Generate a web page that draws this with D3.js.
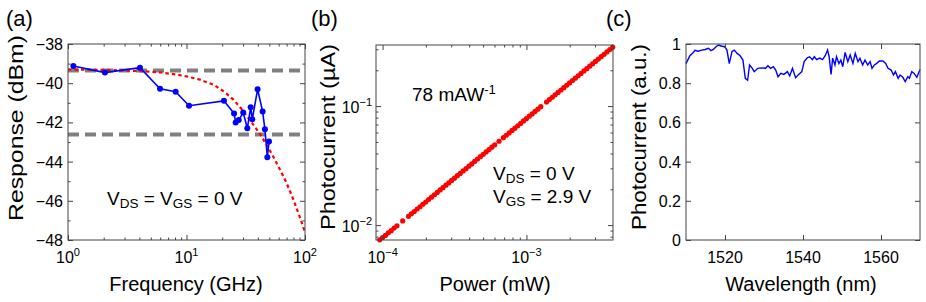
<!DOCTYPE html>
<html>
<head>
<meta charset="utf-8">
<title>Photodetector response</title>
<script src="https://cdn.jsdelivr.net/npm/d3@7"></script>
<style>
  body { margin: 0; background: #fff; }
  text { font-family: "Liberation Sans", Arial, Helvetica, sans-serif; fill: #000; }
  .tk line { stroke: #444; }
  .tk path { display: none; }
  .box { fill: none; stroke: #444; stroke-width: 1; }
</style>
</head>
<body>
<svg width="926" height="302"></svg>
<script>
// ---- (a) frequency response
var freqGHz     = [1.11, 2.05, 4.05, 5.98, 8.1, 10.5, 20.7, 25.2, 26.0, 27.6, 30.1, 32.6, 34.8, 35.9, 39.8, 43.9, 45.9, 48.1, 49.7];
var responseDbm = [-39.12, -39.46, -39.21, -40.28, -40.43, -41.15, -40.9, -41.54, -42.01, -41.88, -41.5, -42.3, -41.23, -41.84, -40.31, -41.45, -42.35, -43.78, -42.98];
var fitFreqGHz  = [1, 2, 3, 4, 6, 8, 10, 13, 17, 21, 25, 29, 33, 37, 42, 47, 54, 62, 70, 80, 90, 100];
var fitDbm      = [-39.3, -39.32, -39.35, -39.38, -39.45, -39.55, -39.65, -39.82, -40.08, -40.45, -40.85, -41.3, -41.75, -42.15, -42.62, -43.1, -43.75, -44.45, -45.1, -45.95, -46.8, -47.6];
var levelDbm    = [-39.35, -42.62];
var aYTicks     = [-48, -46, -44, -42, -40, -38];
var aXTicks     = [1, 10, 100];

// ---- (b) photocurrent vs power
var powerMw = [9.55e-5, 1.000e-4, 1.047e-4, 1.096e-4, 1.148e-4, 1.202e-4, 1.259e-4, 1.380e-4,
  1.514e-4, 1.585e-4, 1.660e-4, 1.738e-4, 1.820e-4, 1.905e-4, 1.995e-4, 2.089e-4, 2.188e-4, 2.291e-4,
  2.399e-4, 2.512e-4, 2.630e-4, 2.754e-4, 2.884e-4, 3.020e-4, 3.162e-4, 3.311e-4, 3.467e-4, 3.631e-4,
  3.802e-4, 3.981e-4, 4.169e-4, 4.365e-4, 4.571e-4, 4.786e-4, 5.012e-4, 5.248e-4, 5.495e-4, 5.754e-4,
  6.026e-4, 6.45e-4, 6.918e-4, 7.244e-4, 7.586e-4, 7.943e-4, 8.318e-4, 8.710e-4, 9.120e-4, 9.550e-4,
  1.000e-3, 1.047e-3, 1.096e-3, 1.148e-3, 1.202e-3, 1.259e-3, 1.380e-3, 1.445e-3, 1.514e-3, 1.585e-3,
  1.660e-3, 1.738e-3, 1.820e-3, 1.905e-3, 1.995e-3, 2.089e-3, 2.188e-3, 2.291e-3, 2.399e-3, 2.512e-3,
  2.630e-3, 2.754e-3, 2.884e-3, 3.020e-3, 3.162e-3, 3.311e-3, 3.467e-3, 3.631e-3, 3.802e-3, 3.981e-3];
var currentUa = [0.00752, 0.00786, 0.00820, 0.00861, 0.00899, 0.00945, 0.00986, 0.01085,
  0.01186, 0.01246, 0.01301, 0.01366, 0.01427, 0.01497, 0.01563, 0.01642, 0.01716, 0.01800,
  0.01881, 0.01974, 0.02062, 0.02165, 0.02261, 0.02374, 0.02479, 0.02602, 0.02719, 0.02853,
  0.02982, 0.03128, 0.03270, 0.03430, 0.03585, 0.03760, 0.03930, 0.04124, 0.04310, 0.04520,
  0.04726, 0.05068, 0.05427, 0.05690, 0.05950, 0.06240, 0.06525, 0.06840, 0.07155, 0.07500,
  0.0784, 0.0823, 0.0859, 0.0902, 0.0943, 0.0989, 0.1082, 0.1135, 0.1187, 0.1245,
  0.1302, 0.1365, 0.1428, 0.1496, 0.1565, 0.1641, 0.1717, 0.1799, 0.1882, 0.1973,
  0.2064, 0.2163, 0.2263, 0.2372, 0.2481, 0.2600, 0.2721, 0.2851, 0.2984, 0.3126];
var bXTicks = [1e-4, 1e-3];
var bYTicks = [1e-2, 1e-1];

// ---- (c) spectral response
var wavelengthNm = [1510.0, 1511.0, 1511.8, 1512.3, 1513.1, 1514.05, 1514.9, 1515.75, 1516.4, 1517.0,
  1517.7, 1518.3, 1519.0, 1519.9, 1520.5, 1521.1, 1521.8, 1522.4, 1523.1, 1523.9, 1524.6, 1525.2,
  1525.8, 1526.3, 1527.0, 1527.5, 1528.4, 1529.4, 1530.4, 1531.0, 1531.7, 1532.4, 1533.0, 1533.6,
  1534.3, 1535.1, 1536.0, 1536.6, 1537.3, 1538.1, 1538.9, 1539.7, 1540.3, 1541.1, 1541.7, 1542.4,
  1542.9, 1543.5, 1544.3, 1545.0, 1545.7, 1546.3, 1546.7, 1547.2, 1547.6, 1548.2, 1548.6, 1549.2,
  1549.7, 1550.2, 1550.8, 1551.5, 1552.1, 1552.8, 1553.4, 1554.1, 1554.6, 1555.3, 1555.9, 1556.6,
  1557.2, 1557.7, 1558.3, 1558.9, 1559.6, 1560.5, 1561.2, 1561.8, 1562.6, 1563.2, 1563.7, 1564.4,
  1564.9, 1565.6, 1566.2, 1566.9, 1567.3, 1567.9, 1568.5, 1569.2, 1570.0];
var photoAu = [0.90, 0.94, 0.955, 0.968, 0.963, 0.969, 0.972, 0.978, 0.966, 0.972,
  0.986, 0.995, 0.99, 0.986, 0.969, 0.90, 0.962, 0.969, 0.952, 0.94, 0.918, 0.825,
  0.815, 0.893, 0.876, 0.859, 0.876, 0.878, 0.876, 0.889, 0.876, 0.884, 0.867, 0.833,
  0.85, 0.845, 0.859, 0.838, 0.876, 0.828, 0.845, 0.859, 0.91, 0.93, 0.935, 0.92,
  0.935, 0.92, 0.928, 0.92, 0.94, 0.969, 0.935, 0.845, 0.928, 0.893, 0.935, 0.90,
  0.918, 0.884, 0.957, 0.91, 0.944, 0.901, 0.952, 0.91, 0.927, 0.893, 0.918, 0.893,
  0.91, 0.876, 0.893, 0.901, 0.913, 0.913, 0.901, 0.876, 0.867, 0.842, 0.859, 0.825,
  0.842, 0.83, 0.808, 0.833, 0.825, 0.859, 0.85, 0.83, 0.87];
var cXTicks = [1520, 1540, 1560];
var cYTicks = [0, 0.2, 0.4, 0.6, 0.8, 1];

var svg = d3.select("svg");

function logMinor(lo, hi) {
  var out = [];
  for (var e = Math.floor(Math.log10(lo)); e <= Math.ceil(Math.log10(hi)); e++)
    for (var m = 2; m <= 9; m++) {
      var v = m * Math.pow(10, e);
      if (v > lo && v < hi) out.push(v);
    }
  return out;
}

// box with inward ticks on all four sides
function frame(g, x, y, w, h, o) {
  var sides = [
    [d3.axisBottom(x), "translate(0," + h + ")", o.xTicks, o.xMinor],
    [d3.axisTop(x), null, o.xTicks, o.xMinor],
    [d3.axisLeft(y), null, o.yTicks, o.yMinor],
    [d3.axisRight(y), "translate(" + w + ",0)", o.yTicks, o.yMinor]
  ];
  sides.forEach(function (s) {
    [[s[2], 5], [s[3] || [], 2.5]].forEach(function (t) {
      g.append("g").attr("class", "tk").attr("transform", s[1])
        .call(s[0].tickValues(t[0]).tickSize(-t[1]).tickSizeOuter(0).tickFormat(""));
    });
  });
  g.append("rect").attr("class", "box").attr("width", w).attr("height", h);
}

function powLabel(g, px, py, exp, anchor) {
  var t = g.append("text").attr("x", px).attr("y", py).attr("text-anchor", anchor).style("font-size", "16px");
  t.append("tspan").text("10");
  t.append("tspan").attr("dy", -7).style("font-size", "11px").text(exp);
}

function yTitle(cx, cy, s, len) {
  svg.append("text").attr("transform", "translate(" + cx + "," + cy + ") rotate(-90)")
    .attr("text-anchor", "middle").style("font-size", "20px")
    .attr("textLength", len).attr("lengthAdjust", "spacingAndGlyphs").text(s);
}
function xTitle(cx, s) {
  svg.append("text").attr("x", cx).attr("y", 291).attr("text-anchor", "middle").style("font-size", "20px").text(s);
}
function tag(px, s) {
  svg.append("text").attr("x", px).attr("y", 26).style("font-size", "22px").text(s);
}
function subText(g, px, py, parts) {
  var t = g.append("text").attr("x", px).attr("y", py).style("font-size", "19px");
  var shift = 0;
  parts.forEach(function (p) {
    var dy = (p[1] || 0) - shift;
    shift = p[1] || 0;
    t.append("tspan").attr("dy", dy).style("font-size", p[1] ? "13.5px" : "19px").text(p[0]);
  });
}

// ================= (a)
(function () {
  var w = 237, h = 196;
  var g = svg.append("g").attr("transform", "translate(68,44)");
  var x = d3.scaleLog().domain([1, 100]).range([0, w]);
  var y = d3.scaleLinear().domain([-48, -38]).range([h, 0]);
  g.append("clipPath").attr("id", "clipA").append("rect").attr("width", w).attr("height", h);
  var plot = g.append("g").attr("clip-path", "url(#clipA)");

  plot.selectAll("line.lvl").data(levelDbm).enter().append("line")
    .attr("x1", 0).attr("x2", w).attr("y1", y).attr("y2", y)
    .attr("stroke", "#808080").attr("stroke-width", 4).attr("stroke-dasharray", "11,6");

  var fit = d3.line().x(function (d) { return x(d[0]); }).y(function (d) { return y(d[1]); });
  plot.append("path").datum(d3.zip(fitFreqGHz, fitDbm)).attr("d", fit)
    .attr("fill", "none").attr("stroke", "#ff0000").attr("stroke-width", 2.2).attr("stroke-dasharray", "3.5,3");

  var meas = d3.zip(freqGHz, responseDbm);
  plot.append("path").datum(meas).attr("d", fit)
    .attr("fill", "none").attr("stroke", "#0000ff").attr("stroke-width", 1.6);
  plot.selectAll("circle").data(meas).enter().append("circle")
    .attr("cx", function (d) { return x(d[0]); }).attr("cy", function (d) { return y(d[1]); })
    .attr("r", 3).attr("fill", "#0000ff");

  frame(g, x, y, w, h, {
    xTicks: aXTicks, xMinor: logMinor(1, 100),
    yTicks: aYTicks, yMinor: d3.range(-47, -38, 2)
  });
  aXTicks.forEach(function (v) { powLabel(g, x(v), h + 23, String(Math.log10(v)), "middle"); });
  g.selectAll("text.yl").data(aYTicks).enter().append("text").attr("class", "yl")
    .attr("x", -5).attr("y", function (d) { return y(d) + 6; }).attr("text-anchor", "end")
    .style("font-size", "16px").text(d3.format("d"));

  subText(g, 39, 161, [["V"], ["DS", 3], [" = V"], ["GS", 3], [" = 0 V"]]);
})();

// ================= (b)
(function () {
  var w = 237, h = 195;
  var g = svg.append("g").attr("transform", "translate(376,45)");
  var x = d3.scaleLog().domain([9e-5, 4e-3]).range([0, w]);
  var y = d3.scaleLog().domain([0.0075, 0.326]).range([h, 0]);

  g.selectAll("circle").data(d3.zip(powerMw, currentUa)).enter().append("circle")
    .attr("cx", function (d) { return x(d[0]); }).attr("cy", function (d) { return y(d[1]); })
    .attr("r", 2.6).attr("fill", "#ff0000");

  frame(g, x, y, w, h, {
    xTicks: bXTicks, xMinor: logMinor(9e-5, 4e-3),
    yTicks: bYTicks, yMinor: logMinor(0.0075, 0.326)
  });
  bXTicks.forEach(function (v) { powLabel(g, x(v), h + 23, "\u2212" + (-Math.log10(v)), "middle"); });
  bYTicks.forEach(function (v) { powLabel(g, -4, y(v) + 7, "\u2212" + (-Math.log10(v)), "end"); });

  var t = g.append("text").attr("x", 36).attr("y", 56).style("font-size", "19px");
  t.append("tspan").text("78 mAW");
  t.append("tspan").attr("dy", -7).style("font-size", "13px").text("-1");

  subText(g, 117, 135, [["V"], ["DS", 3], [" = 0 V"]]);
  subText(g, 117, 158, [["V"], ["GS", 3], [" = 2.9 V"]]);
})();

// ================= (c)
(function () {
  var w = 234, h = 196;
  var g = svg.append("g").attr("transform", "translate(686,44)");
  var x = d3.scaleLinear().domain([1510, 1570]).range([0, w]);
  var y = d3.scaleLinear().domain([0, 1]).range([h, 0]);

  var ln = d3.line().x(function (d) { return x(d[0]); }).y(function (d) { return y(d[1]); });
  g.append("path").datum(d3.zip(wavelengthNm, photoAu)).attr("d", ln)
    .attr("fill", "none").attr("stroke", "#0000ff").attr("stroke-width", 1.4);

  frame(g, x, y, w, h, { xTicks: cXTicks, yTicks: cYTicks });
  g.selectAll("text.xl").data(cXTicks).enter().append("text").attr("class", "xl")
    .attr("x", x).attr("y", h + 23).attr("text-anchor", "middle").style("font-size", "16px").text(String);
  g.selectAll("text.yl").data(cYTicks).enter().append("text").attr("class", "yl")
    .attr("x", -5).attr("y", function (d) { return y(d) + 6; }).attr("text-anchor", "end")
    .style("font-size", "16px").text(d3.format("~g"));
})();

// titles
tag(6, "(a)"); tag(311, "(b)"); tag(606, "(c)");
xTitle(186, "Frequency (GHz)");
xTitle(495, "Power (mW)");
xTitle(801, "Wavelength (nm)");
yTitle(23, 128, "Response (dBm)", 186);
yTitle(335, 137, "Photocurrent (\u00b5A)", 186);
yTitle(646, 137, "Photocurrent (a.u.)", 186);
</script>
</body>
</html>
